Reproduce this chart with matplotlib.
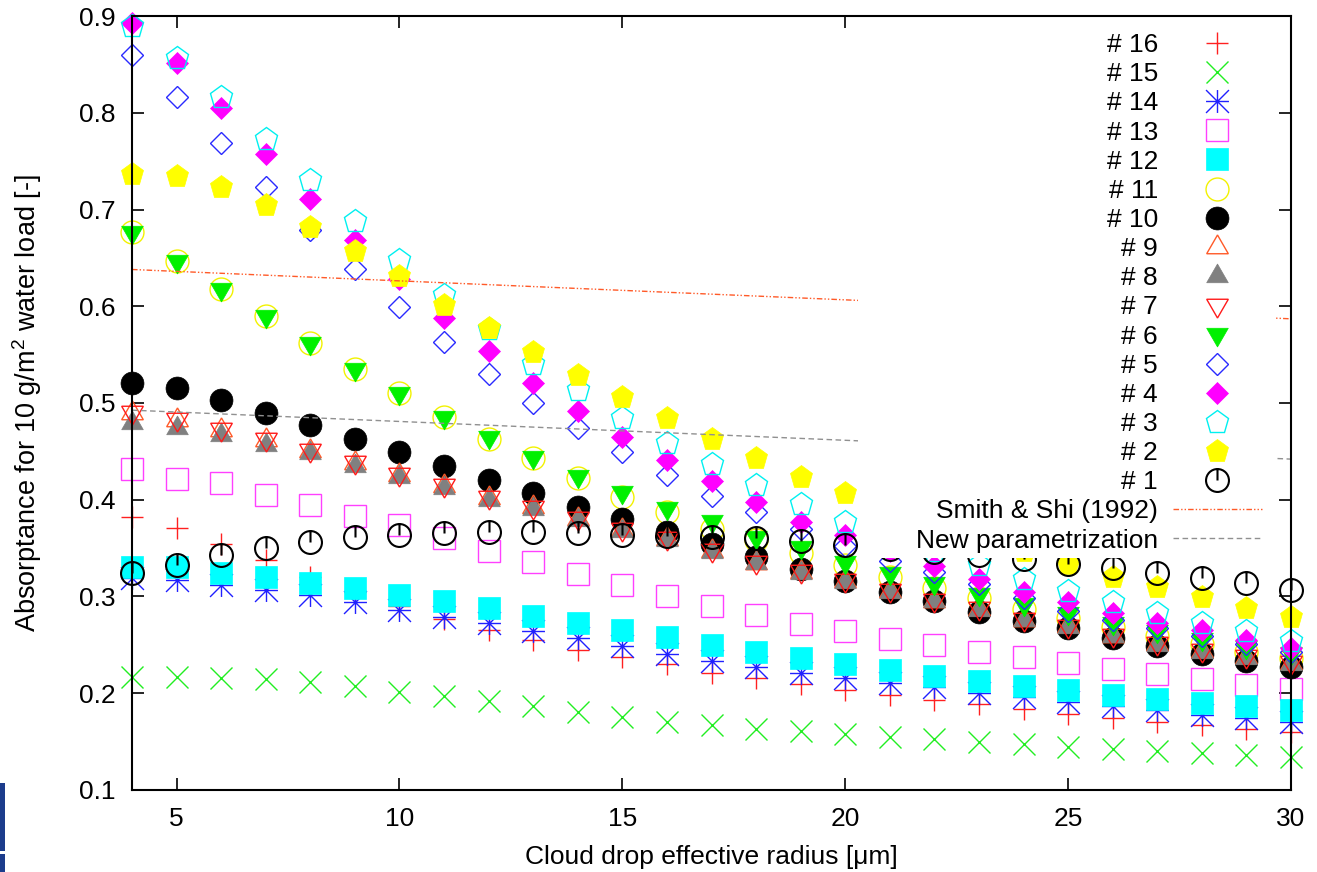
import matplotlib
matplotlib.use('Agg')
import matplotlib.pyplot as plt
from matplotlib.path import Path
from matplotlib.patches import Rectangle

plt.rcParams['font.family'] = ['Liberation Sans', 'DejaVu Sans']
plt.rcParams['mathtext.fontset'] = 'custom'
plt.rcParams['mathtext.rm'] = 'Liberation Sans'
plt.rcParams['mathtext.it'] = 'Liberation Sans:italic'
plt.rcParams['mathtext.bf'] = 'Liberation Sans:bold'

# ---------------- data ----------------
radius = [4, 5, 6, 7, 8, 9, 10, 11, 12, 13, 14, 15, 16, 17, 18, 19, 20,
          21, 22, 23, 24, 25, 26, 27, 28, 29, 30]

s1 = [0.3245, 0.333, 0.343, 0.350, 0.356, 0.361, 0.364, 0.366, 0.367, 0.367, 0.366, 0.364, 0.363, 0.362,
      0.360, 0.357, 0.353, 0.349, 0.346, 0.343, 0.339, 0.334, 0.329, 0.324, 0.319, 0.3135, 0.307]
s2 = [0.737, 0.735, 0.723, 0.705, 0.682, 0.657, 0.631, 0.601, 0.578, 0.553, 0.529, 0.506, 0.484, 0.463,
      0.443, 0.424, 0.407, 0.392, 0.377, 0.361, 0.347, 0.334, 0.320, 0.310, 0.299, 0.2885, 0.279]
s3 = [0.890, 0.857, 0.816, 0.773, 0.730, 0.688, 0.648, 0.612, 0.576, 0.540, 0.513, 0.485, 0.459, 0.437,
      0.415, 0.396, 0.377, 0.361, 0.347, 0.333, 0.318, 0.306, 0.294, 0.283, 0.273, 0.264, 0.254]
s4 = [0.893, 0.851, 0.805, 0.757, 0.711, 0.668, 0.628, 0.588, 0.554, 0.521, 0.492, 0.465, 0.441, 0.419,
      0.398, 0.377, 0.364, 0.347, 0.332, 0.318, 0.305, 0.294, 0.283, 0.273, 0.265, 0.255, 0.247]
s5 = [0.860, 0.816, 0.769, 0.723, 0.679, 0.638, 0.599, 0.563, 0.530, 0.500, 0.474, 0.449, 0.426, 0.404,
      0.387, 0.370, 0.352, 0.337, 0.325, 0.313, 0.298, 0.285, 0.276, 0.267, 0.259, 0.251, 0.243]
s6 = [0.677, 0.647, 0.618, 0.590, 0.562, 0.535, 0.510, 0.486, 0.465, 0.444, 0.425, 0.408, 0.391, 0.378,
      0.362, 0.351, 0.336, 0.324, 0.3135, 0.303, 0.292, 0.283, 0.273, 0.264, 0.256, 0.248, 0.242]
s7 = [0.491, 0.483, 0.473, 0.4625, 0.451, 0.439, 0.427, 0.415, 0.403, 0.393, 0.381, 0.370, 0.360, 0.348,
      0.336, 0.326, 0.317, 0.307, 0.296, 0.288, 0.277, 0.270, 0.260, 0.252, 0.245, 0.238, 0.232]
s8 = [0.479, 0.474, 0.467, 0.457, 0.448, 0.435, 0.424, 0.412, 0.400, 0.390, 0.379, 0.368, 0.358, 0.346,
      0.335, 0.324, 0.315, 0.305, 0.295, 0.286, 0.276, 0.268, 0.259, 0.250, 0.243, 0.236, 0.230]
s9 = [0.490, 0.482, 0.472, 0.462, 0.450, 0.438, 0.426, 0.414, 0.402, 0.392, 0.380, 0.369, 0.359, 0.347,
      0.335, 0.325, 0.316, 0.306, 0.295, 0.287, 0.276, 0.269, 0.259, 0.251, 0.244, 0.237, 0.231]
s10 = [0.521, 0.515, 0.503, 0.490, 0.477, 0.463, 0.449, 0.435, 0.420, 0.4065, 0.392, 0.380, 0.367, 0.354,
       0.341, 0.328, 0.316, 0.305, 0.295, 0.284, 0.275, 0.267, 0.2575, 0.249, 0.2405, 0.2335, 0.2275]
s11 = [0.677, 0.647, 0.618, 0.590, 0.562, 0.535, 0.510, 0.486, 0.463, 0.443, 0.422, 0.403, 0.3875, 0.370,
       0.358, 0.345, 0.333, 0.320, 0.309, 0.298, 0.287, 0.278, 0.268, 0.259, 0.251, 0.243, 0.236]
s12 = [0.331, 0.330, 0.3245, 0.320, 0.314, 0.309, 0.3015, 0.295, 0.288, 0.280, 0.273, 0.265, 0.258, 0.250,
       0.243, 0.236, 0.230, 0.224, 0.218, 0.213, 0.2075, 0.203, 0.198, 0.194, 0.190, 0.187, 0.183]
s13 = [0.432, 0.4216, 0.417, 0.405, 0.395, 0.383, 0.374, 0.360, 0.347, 0.336, 0.323, 0.312, 0.300, 0.2905,
       0.281, 0.272, 0.264, 0.256, 0.2495, 0.243, 0.237, 0.231, 0.225, 0.2196, 0.2144, 0.209, 0.2044]
s14 = [0.319, 0.317, 0.312, 0.3066, 0.3015, 0.2945, 0.286, 0.279, 0.273, 0.264, 0.257, 0.249, 0.2405, 0.233,
       0.227, 0.221, 0.216, 0.211, 0.206, 0.2006, 0.196, 0.191, 0.187, 0.183, 0.178, 0.174, 0.170]
s15 = [0.217, 0.217, 0.216, 0.2147, 0.212, 0.207, 0.2016, 0.197, 0.192, 0.187, 0.181, 0.1754, 0.1706, 0.1668,
       0.1634, 0.1605, 0.1576, 0.1552, 0.1524, 0.150, 0.1472, 0.1448, 0.1421, 0.1403, 0.1379, 0.1362, 0.1338]
s16 = [0.382, 0.371, 0.354, 0.338, 0.320, 0.305, 0.290, 0.277, 0.265, 0.255, 0.245, 0.237, 0.230, 0.2205,
       0.2154, 0.210, 0.2034, 0.198, 0.193, 0.1886, 0.1834, 0.179, 0.1747, 0.1706, 0.1668, 0.1634, 0.160]

line_r = [4, 30]
smith_shi = [0.638, 0.587]
new_param = [0.4926, 0.442]

series_labels = ['# 16', '# 15', '# 14', '# 13', '# 12', '# 11', '# 10', '# 9',
                 '# 8', '# 7', '# 6', '# 5', '# 4', '# 3', '# 2', '# 1']
series_values = [s16, s15, s14, s13, s12, s11, s10, s9, s8, s7, s6, s5, s4, s3, s2, s1]

y_ticks = [0.1, 0.2, 0.3, 0.4, 0.5, 0.6, 0.7, 0.8, 0.9]
x_ticks = [5, 10, 15, 20, 25, 30]

# ---------------- marker styles ----------------
M, L = Path.MOVETO, Path.LINETO
tick_circle = Path.make_compound_path(Path.unit_circle(), Path([(0, 0), (0, 1)], [M, L]))
asterisk = Path([(-1, 0), (1, 0), (0, -1), (0, 1), (-1, -1), (1, 1), (-1, 1), (1, -1)],
                [M, L, M, L, M, L, M, L])
tri_up = (3, 0, 0)
tri_dn = (3, 0, 180)

# (marker, size, color, filled, edge width)
styles = [
    ('+', 16.5, '#ff2020', False, 1.0),       # 16
    ('x', 16.5, '#22ee22', False, 1.0),       # 15
    (asterisk, 16.5, '#2020ff', False, 1.0),  # 14
    ('s', 16.0, '#ff40ff', False, 1.0),       # 13
    ('s', 16.5, '#00ffff', True, 0.5),        # 12
    ('o', 16.5, '#f2f200', False, 1.0),       # 11
    ('o', 16.5, '#000000', True, 0.5),        # 10
    (tri_up, 18.0, '#ff5a28', False, 1.0),    # 9
    (tri_up, 18.0, '#808080', True, 0.5),     # 8
    (tri_dn, 18.0, '#ff1a1a', False, 1.0),    # 7
    (tri_dn, 18.0, '#00f000', True, 0.5),     # 6
    ('D', 11.7, '#2a2aff', False, 1.0),       # 5
    ('D', 11.7, '#ff00ff', True, 0.5),        # 4
    ('p', 17.0, '#00f0f0', False, 1.0),       # 3
    ('p', 17.0, '#ffff00', True, 0.5),        # 2
    (tick_circle, 16.5, '#000000', False, 1.5),  # 1
]

# ---------------- figure ----------------
fig = plt.figure(figsize=(13.17, 8.72), dpi=100)
ax = fig.add_axes([0.10023, 0.09404, 0.88003, 0.88761])

for lab, vals, (mk, ms, col, filled, mew) in zip(series_labels, series_values, styles):
    ax.plot(radius, vals, linestyle='none', marker=mk, ms=ms, mec=col,
            mfc=col if filled else 'none', mew=mew, clip_on=False, label=lab, zorder=2)

ax.plot(line_r, smith_shi, color='#ff5a28', lw=1.0, dashes=(4, 1.5, 1, 1.5, 1, 1.5),
        label='Smith & Shi (1992)', zorder=2.5)
ax.plot(line_r, new_param, color='#909090', lw=1.0, dashes=(4, 2.5),
        label='New parametrization', zorder=2.5)

# opaque key area (white box behind the key)
ax.add_patch(Rectangle((20.28, 0.3397), 29.63 - 20.28, 0.9 - 0.3397,
                       facecolor='white', edgecolor='none', zorder=3))

ax.set_xlim(4, 30)
ax.set_ylim(0.1, 0.9)
ax.set_xticks(x_ticks)
ax.set_xticklabels([str(v) for v in x_ticks])
ax.set_yticks(y_ticks)
ax.set_yticklabels(['%.1f' % v for v in y_ticks])
ax.tick_params(direction='in', length=8.5, width=1.2, top=True, right=True,
               labelsize=19, colors='black')
ax.tick_params(axis='y', pad=12)
ax.tick_params(axis='x', pad=12.5)
for sp in ax.spines.values():
    sp.set_linewidth(1.5)
    sp.set_zorder(6)

ax.set_xlabel('Cloud drop effective radius [\u03bcm]', fontsize=19)
ax.xaxis.set_label_coords(0.5, -0.0705)
ax.set_ylabel('Absorptance for 10 g/m$^2$ water load [-]', fontsize=19.5)
ax.yaxis.set_label_coords(-0.076, 0.5)

leg = ax.legend(loc='upper right', bbox_to_anchor=(0.9582, 0.962),
                bbox_transform=fig.transFigure, frameon=False, markerfirst=False,
                fontsize=19, handlelength=3.37, handletextpad=0.57,
                labelspacing=0.195, borderpad=0, borderaxespad=0, numpoints=1)
leg.set_zorder(7)

# partial logo at lower-left edge
fig.patches.append(Rectangle((0, 21 / 872), 5 / 1317, 68 / 872, transform=fig.transFigure,
                             facecolor='#1c3c8c', edgecolor='none'))
fig.patches.append(Rectangle((0, 0), 5 / 1317, 18 / 872, transform=fig.transFigure,
                             facecolor='#1c3c8c', edgecolor='none'))

fig.savefig('out.png', dpi=100)
